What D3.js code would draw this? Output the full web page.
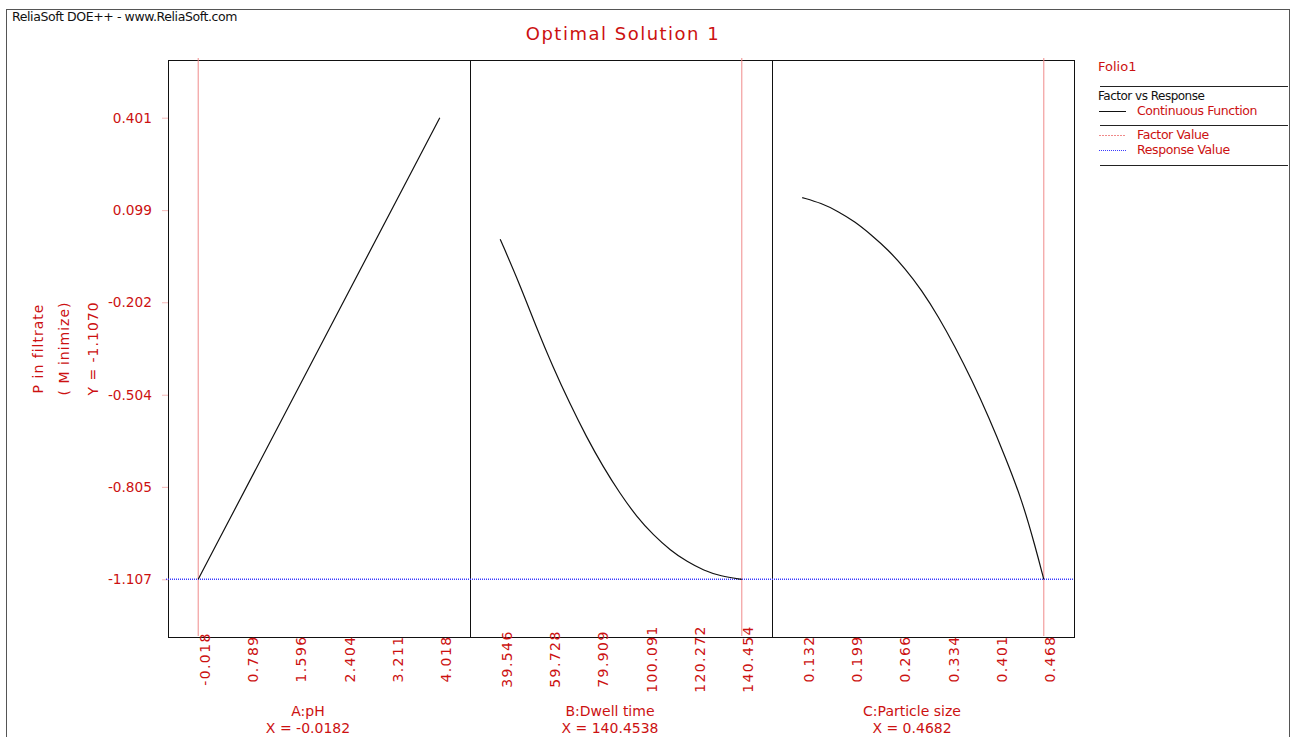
<!DOCTYPE html>
<html>
<head>
<meta charset="utf-8">
<script src="https://cdn.jsdelivr.net/npm/d3@7"></script>
<style>
    body { margin: 0; background: #fff; }
    svg { display: block; font-family: "DejaVu Sans", Verdana, sans-serif; }
</style>
</head>
<body>
<div id="chart"></div>
<script>
// factor settings at the optimal solution
var factorNames = ["A:pH", "B:Dwell time", "C:Particle size"];
var factorValues = [-0.0182, 140.4538, 0.4682];
var factorLabels = ["-0.0182", "140.4538", "0.4682"];
var factorMin = [-0.0182, 39.5462, 0.1318];
var factorMax = [4.0182, 140.4538, 0.4682];

// tick labels
var ticksA = [-0.018, 0.789, 1.596, 2.404, 3.211, 4.018];
var ticksB = [39.546, 59.728, 79.909, 100.091, 120.272, 140.454];
var ticksC = [0.132, 0.199, 0.266, 0.334, 0.401, 0.468];
var ticksY = [-1.107, -0.805, -0.504, -0.202, 0.099, 0.401];

// response
var responseName = "P in filtrate";
var responseGoal = "( M inimize)";
var responseValue = -1.1070;
var responseMin = -1.107;
var responseMax = 0.401;

// factor vs response curves
var curveA = [[-0.0182, -1.107], [2.0, -0.353], [4.0182, 0.401]];
var curveB = [
    [39.546, 0.004], [47.53, -0.140], [54.56, -0.282], [61.54, -0.413],
    [68.56, -0.532], [75.58, -0.642], [82.56, -0.740], [89.58, -0.827],
    [96.60, -0.903], [103.58, -0.963], [110.60, -1.012], [117.63, -1.050],
    [124.60, -1.078], [131.63, -1.097], [140.454, -1.107]
];
var curveC = [
    [0.1318, 0.140], [0.1584, 0.122], [0.1817, 0.095], [0.2049, 0.062],
    [0.2282, 0.018], [0.2516, -0.031], [0.2748, -0.091], [0.2981, -0.162],
    [0.3215, -0.249], [0.3446, -0.347], [0.3680, -0.456], [0.3913, -0.576],
    [0.4145, -0.707], [0.4379, -0.849], [0.4564, -1.001], [0.4682, -1.107]
];

var legendItems = ["Continuous Function", "Factor Value", "Response Value"];

var red = "#cc1111",
    pink = "#f08a8a",
    blue = "#3a3aff";

var W = 1292, H = 737;
var margin = { top: 60, left: 168 };
var panelW = 302, panelH = 577;
var pad = 0.125;

// plain hyphen instead of unicode minus
var fmt3 = function(d) { return d3.format(".3f")(d).replace("\u2212", "-"); };

var svg = d3.select("#chart").append("svg")
    .attr("width", W)
    .attr("height", H);

// outer frame + header
svg.append("rect")
    .attr("x", 6.5).attr("y", 9.5)
    .attr("width", 1283).attr("height", 760)
    .attr("fill", "none").attr("stroke", "#555");

svg.append("text")
    .attr("x", 12).attr("y", 21)
    .style("font-size", "12.5px")
    .style("letter-spacing", "-0.4px")
    .attr("fill", "#111")
    .text("ReliaSoft DOE++ - www.ReliaSoft.com");

svg.append("text")
    .attr("x", 623).attr("y", 40)
    .attr("text-anchor", "middle")
    .style("font-size", "18px")
    .style("letter-spacing", "1.5px")
    .attr("fill", red)
    .text("Optimal Solution 1");

var yPad = (responseMax - responseMin) * pad;
var y = d3.scaleLinear()
    .domain([responseMin - yPad, responseMax + yPad])
    .range([margin.top + panelH, margin.top]);

// y axis
var yAxis = d3.axisLeft(y).tickValues(ticksY).tickSize(6).tickPadding(10)
    .tickFormat(fmt3);
var gy = svg.append("g")
    .attr("transform", "translate(" + margin.left + ",0)")
    .call(yAxis);
gy.select(".domain").remove();
gy.selectAll("line").attr("stroke", "#f6b8b8");
gy.selectAll("text")
    .attr("fill", red)
    .style("font-size", "13.7px")
    .style("font-family", "DejaVu Sans, sans-serif");

// y axis title (three rotated lines)
var yMid = margin.top + panelH / 2;
[[43, responseName], [69, responseGoal], [98, "Y = " + responseValue.toFixed(4)]].forEach(function(t) {
    svg.append("text")
        .attr("transform", "translate(" + t[0] + "," + yMid + ") rotate(-90)")
        .attr("text-anchor", "middle")
        .style("font-size", "14px")
        .style("letter-spacing", "1px")
        .attr("fill", red)
        .text(t[1]);
});

var tickSets = [ticksA, ticksB, ticksC];
var curves = [curveA, curveB, curveC];
var line = d3.line().curve(d3.curveBasis);

factorNames.forEach(function(name, i) {
    var x0 = margin.left + i * panelW;
    var r = factorMax[i] - factorMin[i];
    var x = d3.scaleLinear()
        .domain([factorMin[i] - r * pad, factorMax[i] + r * pad])
        .range([x0, x0 + panelW]);

    var g = svg.append("g");

    // panel border
    g.append("rect")
        .attr("x", x0 + 0.5).attr("y", margin.top + 0.5)
        .attr("width", panelW).attr("height", panelH)
        .attr("fill", "none").attr("stroke", "#111");

    // factor value line
    g.append("line")
        .attr("x1", x(factorValues[i])).attr("x2", x(factorValues[i]))
        .attr("y1", margin.top - 2).attr("y2", margin.top + panelH - 1)
        .attr("stroke", pink).attr("stroke-width", 1);

    // response value line
    g.append("line")
        .attr("x1", x0 - (i === 0 ? 2 : 0)).attr("x2", x0 + panelW)
        .attr("y1", y(responseValue)).attr("y2", y(responseValue))
        .attr("stroke", blue).attr("stroke-width", 1.5)
        .attr("stroke-dasharray", "1,1");

    // continuous function
    g.append("path")
        .datum(curves[i])
        .attr("d", line.x(function(d) { return x(d[0]); }).y(function(d) { return y(d[1]); }))
        .attr("fill", "none")
        .attr("stroke", "#111")
        .attr("stroke-width", 1.2);

    // x axis with rotated labels
    var xAxis = d3.axisBottom(x).tickValues(tickSets[i]).tickSize(0)
        .tickFormat(fmt3);
    var gx = g.append("g")
        .attr("transform", "translate(0," + (margin.top + panelH) + ")")
        .call(xAxis);
    gx.select(".domain").remove();
    gx.selectAll("text")
        .attr("transform", "rotate(-90)")
        .attr("x", -22)
        .attr("y", 6)
        .attr("dy", "0.35em")
        .attr("text-anchor", "middle")
        .attr("fill", red)
        .style("font-size", "14px")
        .style("letter-spacing", "1.4px")
        .style("font-family", "DejaVu Sans, sans-serif");

    // factor name and value
    var cx = x0 + panelW / 2 - 11;
    g.append("text")
        .attr("x", cx).attr("y", 716)
        .attr("text-anchor", "middle")
        .style("font-size", "14px")
        .attr("fill", red)
        .text(name);
    g.append("text")
        .attr("x", cx).attr("y", 733)
        .attr("text-anchor", "middle")
        .style("font-size", "14px")
        .attr("fill", red)
        .text("X = " + factorLabels[i]);
});

// legend
var lg = svg.append("g");
lg.append("text").attr("x", 1098).attr("y", 71)
    .style("font-size", "13px").attr("fill", red).text("Folio1");
[86, 125, 165].forEach(function(ly) {
    lg.append("line").attr("x1", 1100).attr("x2", 1288)
        .attr("y1", ly + 0.5).attr("y2", ly + 0.5)
        .attr("stroke", "#222");
});
lg.append("text").attr("x", 1098).attr("y", 100)
    .style("font-size", "12px").style("letter-spacing", "-0.5px")
    .attr("fill", "#111").text("Factor vs Response");

var legendRows = [
    { y: 115, stroke: "#111", dash: null, w: 1 },
    { y: 139, stroke: pink, dash: "2,1", w: 1.2 },
    { y: 154, stroke: blue, dash: "1,1", w: 1.2 }
];
legendItems.forEach(function(label, k) {
    var row = legendRows[k];
    lg.append("line")
        .attr("x1", 1099).attr("x2", 1126)
        .attr("y1", row.y - 3.5).attr("y2", row.y - 3.5)
        .attr("stroke", row.stroke)
        .attr("stroke-width", row.w)
        .attr("stroke-dasharray", row.dash);
    lg.append("text")
        .attr("x", 1137).attr("y", row.y)
        .style("font-size", "12.5px")
        .style("letter-spacing", "-0.4px")
        .attr("fill", red)
        .text(label);
});
</script>
</body>
</html>
